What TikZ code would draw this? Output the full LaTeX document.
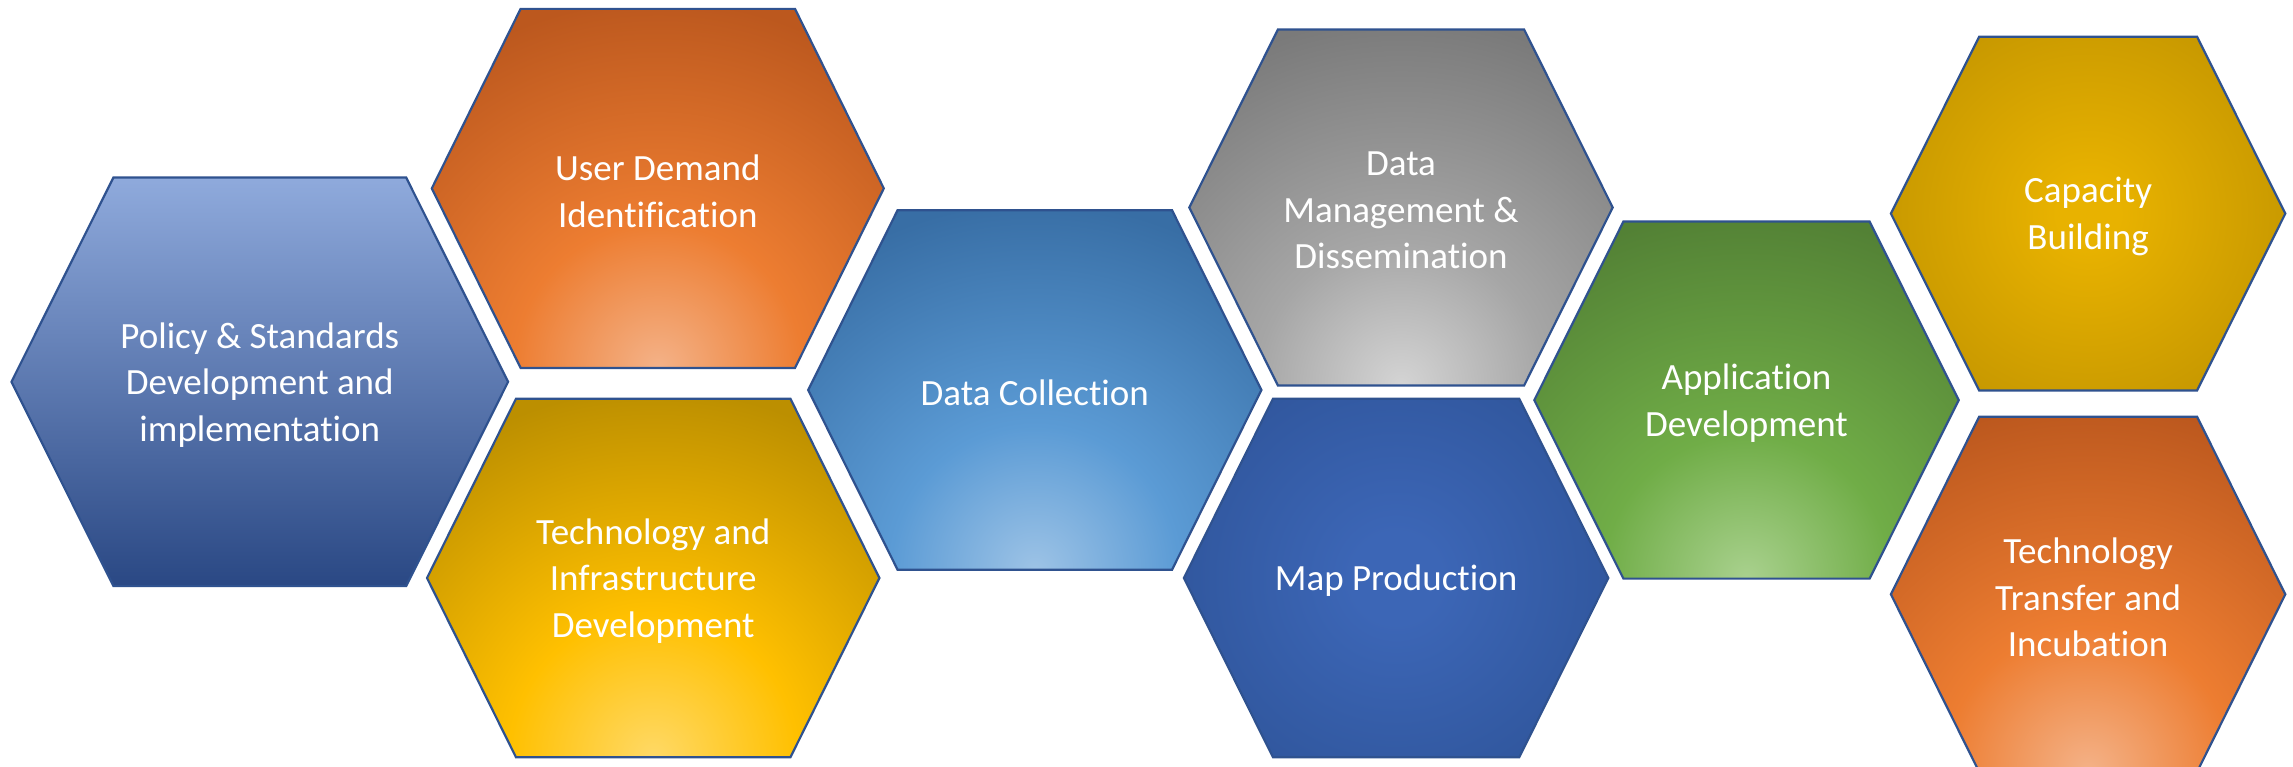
\documentclass[tikz,border=0pt]{standalone}
\usepackage{fontspec}
\setmainfont{Carlito}[Ligatures=NoCommon]
\definecolor{edgeblue}{RGB}{47,82,143}
\definecolor{polTop}{RGB}{143,170,220}
\definecolor{polMid}{RGB}{72,116,198}
\definecolor{polBot}{RGB}{42,72,132}
\definecolor{orL}{RGB}{244,178,136}
\definecolor{orM}{RGB}{237,125,49}
\definecolor{orD}{RGB}{188,88,30}
\definecolor{goL}{RGB}{255,217,102}
\definecolor{goM}{RGB}{255,192,0}
\definecolor{goD}{RGB}{188,143,0}
\definecolor{blL}{RGB}{157,195,230}
\definecolor{blM}{RGB}{91,155,213}
\definecolor{blD}{RGB}{56,110,165}
\definecolor{grL}{RGB}{212,212,212}
\definecolor{grM}{RGB}{166,166,166}
\definecolor{grD}{RGB}{122,122,122}
\definecolor{mpL}{RGB}{60,102,182}
\definecolor{mpD}{RGB}{45,82,150}
\definecolor{gnL}{RGB}{169,209,142}
\definecolor{gnM}{RGB}{112,173,71}
\definecolor{gnD}{RGB}{83,129,53}
\definecolor{caL}{RGB}{232,178,0}
\definecolor{caD}{RGB}{190,145,0}
\pgfdeclareradialshading{orS}{\pgfpoint{0bp}{0bp}}{color(0bp)=(orL); color(9bp)=(orM); color(23bp)=(orD); color(50bp)=(orD)}
\pgfdeclareradialshading{goS}{\pgfpoint{0bp}{0bp}}{color(0bp)=(goL); color(9bp)=(goM); color(23bp)=(goD); color(50bp)=(goD)}
\pgfdeclareradialshading{blS}{\pgfpoint{0bp}{0bp}}{color(0bp)=(blL); color(9bp)=(blM); color(23bp)=(blD); color(50bp)=(blD)}
\pgfdeclareradialshading{grS}{\pgfpoint{0bp}{0bp}}{color(0bp)=(grL); color(9bp)=(grM); color(23bp)=(grD); color(50bp)=(grD)}
\pgfdeclareradialshading{gnS}{\pgfpoint{0bp}{0bp}}{color(0bp)=(gnL); color(9bp)=(gnM); color(23bp)=(gnD); color(50bp)=(gnD)}
\pgfdeclareradialshading{mpS}{\pgfpoint{0bp}{0bp}}{color(0bp)=(mpL); color(4bp)=(mpL); color(25bp)=(mpD); color(50bp)=(mpD)}
\pgfdeclareradialshading{caS}{\pgfpoint{0bp}{0bp}}{color(0bp)=(caL); color(3bp)=(caL); color(25bp)=(caD); color(50bp)=(caD)}
\tikzset{
  hexline/.style={draw=edgeblue, line width=2.2pt, line join=miter},
  lbl/.style={text=white, align=center, font=\fontsize{37}{46.5}\selectfont, inner sep=0pt, yshift=-3pt},
}
% #1 name, #2 cx, #3 cy, #4 half width, #5 half height, #6 top half width
\newcommand\hexcorners[6]{%
  \coordinate (#1-l) at (#2-#4,#3);
  \coordinate (#1-tl) at (#2-#6,#3-#5);
  \coordinate (#1-tr) at (#2+#6,#3-#5);
  \coordinate (#1-r) at (#2+#4,#3);
  \coordinate (#1-br) at (#2+#6,#3+#5);
  \coordinate (#1-bl) at (#2-#6,#3+#5);
}
% #1 name, #2 base colour, #3 shading, #4 shading centre x, #5 centre y, #6 radius
\newcommand\hexfill[6]{%
  \fill[#2] (#1-l) -- (#1-tl) -- (#1-tr) -- (#1-r) -- (#1-br) -- (#1-bl) -- cycle;
  \begin{scope}
    \clip (#1-l) -- (#1-tl) -- (#1-tr) -- (#1-r) -- (#1-br) -- (#1-bl) -- cycle;
    \shade[shading=#3] (#4,#5) circle (#6);
  \end{scope}
  \draw[hexline] (#1-l) -- (#1-tl) -- (#1-tr) -- (#1-r) -- (#1-br) -- (#1-bl) -- cycle;
}
\begin{document}
\begin{tikzpicture}[x=1pt,y=-1pt]
\useasboundingbox (0,0) rectangle (2293,767);
\begin{scope}
\clip (0,0) rectangle (2293,767);
% Policy (linear)
\hexcorners{P}{259.8}{381.8}{248.3}{204.2}{146.4}
\shade[top color=polTop, middle color=polMid, bottom color=polBot]
  (P-l) -- (P-tl) -- (P-tr) -- (P-r) -- (P-br) -- (P-bl) -- cycle;
\draw[hexline] (P-l) -- (P-tl) -- (P-tr) -- (P-r) -- (P-br) -- (P-bl) -- cycle;
% User demand
\hexcorners{U}{657.8}{188.4}{226}{179.5}{137.2}
\hexfill{U}{orD}{orS}{657.8}{367.9}{400}
% Tech infra
\hexcorners{T}{653.2}{578}{226.2}{179.3}{137.2}
\hexfill{T}{goD}{goS}{653.2}{757.2}{400}
% Data collection
\hexcorners{C}{1034.8}{390}{226.6}{179.8}{137.2}
\hexfill{C}{blD}{blS}{1034.8}{569.8}{400}
% Data management
\hexcorners{M}{1401}{207.5}{211.7}{178}{123.1}
\hexfill{M}{grD}{grS}{1401}{385.5}{400}
% Map production
\hexcorners{MP}{1396.1}{578}{212.2}{179.3}{123.1}
\hexfill{MP}{mpD}{mpS}{1396.1}{578}{280}
% Application
\hexcorners{A}{1746.5}{400.1}{212.2}{178.5}{123.1}
\hexfill{A}{gnD}{gnS}{1746.5}{578.6}{400}
% Capacity
\hexcorners{K}{2088.1}{213.6}{197.2}{176.8}{109}
\hexfill{K}{caD}{caS}{2088.1}{213.6}{260}
% Tech transfer
\hexcorners{TT}{2088.1}{594.3}{197.2}{177.5}{109}
\hexfill{TT}{orD}{orS}{2088.1}{771.8}{400}
\end{scope}
% labels
\node[lbl] (tP) at (259.8,381.8) {Policy \& Standards\\Development and\\implementation};
\node[lbl] (tU) at (657.8,188.4) {User Demand\\Identification};
\node[lbl] (tT) at (653.2,578) {Technology and\\Infrastructure\\Development};
\node[lbl] (tC) at (1034.8,390) {Data Collection};
\node[lbl] (tM) at (1401,207.5) {Data\\Management \&\\Dissemination};
\node[lbl] (tMP) at (1396.1,578) {Map Production};
\node[lbl] (tA) at (1746.5,400.1) {Application\\Development};
\node[lbl] (tK) at (2088.1,213.6) {Capacity\\Building};
\node[lbl] (tTT) at (2088.1,594.3) {Technology\\Transfer and\\Incubation};
\end{tikzpicture}
\end{document}
